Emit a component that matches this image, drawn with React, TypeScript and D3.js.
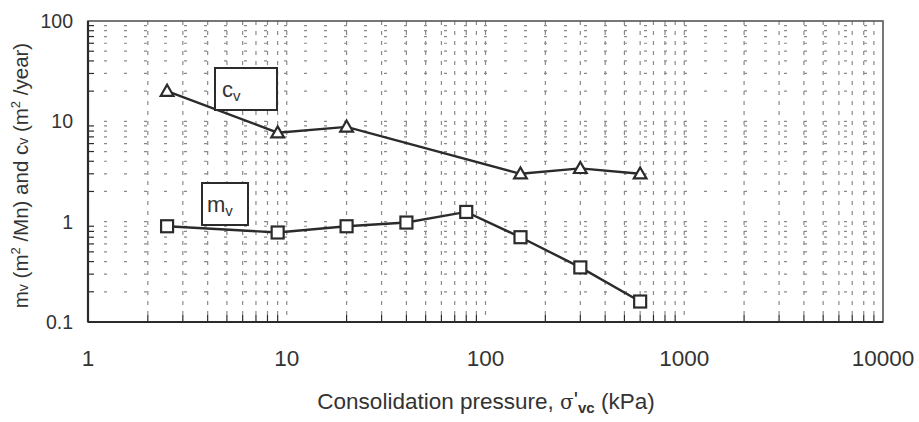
import React from "react";
import * as d3 from "d3";

// Consolidation test results: coefficient of consolidation (cv) and
// coefficient of volume compressibility (mv) against effective pressure.
const cvPressure = [2.5, 9, 20, 150, 300, 600];
const cvValues = [20, 7.7, 8.8, 3.0, 3.4, 3.0];

const mvPressure = [2.5, 9, 20, 40, 80, 150, 300, 600];
const mvValues = [0.9, 0.78, 0.9, 0.98, 1.25, 0.7, 0.35, 0.16];

const xTickValues = [1, 10, 100, 1000, 10000];
const xTickLabels = ["1", "10", "100", "1000", "10000"];
const yTickValues = [0.1, 1, 10, 100];
const yTickLabels = ["0.1", "1", "10", "100"];

const W = 919;
const H = 422;
const margin = { left: 88, right: 36, top: 21, bottom: 100 };

export default function App() {
  const x = d3
    .scaleLog()
    .domain([1, 10000])
    .range([margin.left, W - margin.right]);
  const y = d3
    .scaleLog()
    .domain([0.1, 100])
    .range([H - margin.bottom, margin.top]);

  const [x0, x1] = x.range();
  const [y0, y1] = y.range();

  // minor grid positions: 2..9 inside each decade, plus the decade lines
  const xMinor: number[] = [];
  for (let d = 1; d < 10000; d *= 10) for (let k = 2; k <= 9; k++) xMinor.push(d * k);
  const yMinor: number[] = [];
  for (let d = 0.1; d < 100; d *= 10) for (let k = 2; k <= 9; k++) yMinor.push(+(d * k).toPrecision(3));
  const xGrid = [...xMinor, 10, 100, 1000];
  const yGrid = [...yMinor, 1, 10];

  const line = d3
    .line<[number, number]>()
    .x((d) => x(d[0]))
    .y((d) => y(d[1]));

  const cvPts: [number, number][] = cvPressure.map((p, i) => [p, cvValues[i]]);
  const mvPts: [number, number][] = mvPressure.map((p, i) => [p, mvValues[i]]);

  const ink = "#2b2b2b";
  const gridColor = "#8a8a8a";
  const font = "Liberation Sans, Arial, sans-serif";

  const tri = d3.symbol(d3.symbolTriangle, 70)();

  return (
    <svg width={W} height={H} style={{ display: "block", position: "absolute", left: 0, top: 0 }}>
      <rect width={W} height={H} fill="#fff" />

      {/* dashed grid */}
      <g stroke={gridColor} strokeWidth={1.2}>
        {yGrid.map((v) => (
          <line key={"h" + v} x1={x0} x2={x1} y1={y(v)} y2={y(v)} strokeDasharray="3 17" strokeDashoffset={-16} />
        ))}
        {xGrid.map((v) => (
          <line key={"v" + v} x1={x(v)} x2={x(v)} y1={y1} y2={y0} strokeDasharray="4 6" />
        ))}
      </g>

      {/* inward minor ticks */}
      <g stroke={ink} strokeWidth={1.2}>
        {xMinor.map((v) => (
          <line key={"xt" + v} x1={x(v)} x2={x(v)} y1={y0} y2={y0 - 7} />
        ))}
        {yMinor.map((v) => (
          <line key={"yt" + v} x1={x0} x2={x0 + 6} y1={y(v)} y2={y(v)} />
        ))}
      </g>

      {/* plot frame */}
      <rect x={x0} y={y1} width={x1 - x0} height={y0 - y1} fill="none" stroke="#555" strokeWidth={1.6} />
      <line x1={x0} x2={x1} y1={y0} y2={y0} stroke={ink} strokeWidth={2.2} />
      <line x1={x0} x2={x0} y1={y1} y2={y0} stroke={ink} strokeWidth={2.2} />

      {/* tick labels */}
      <g fontFamily={font} fill="#333">
        {xTickValues.map((v, i) => (
          <text key={"xl" + v} x={x(v)} y={y0 + 44} fontSize={22.5} textAnchor="middle">
            {xTickLabels[i]}
          </text>
        ))}
        {yTickValues.map((v, i) => (
          <text key={"yl" + v} x={x0 - 15} y={y(v) + 7} fontSize={19.5} textAnchor="end">
            {yTickLabels[i]}
          </text>
        ))}
      </g>

      {/* axis titles */}
      <text x={486} y={409} fontFamily={font} fontSize={22.5} fill="#333" textAnchor="middle">
        Consolidation pressure,{" "}
        <tspan fontFamily="DejaVu Serif, serif" fontSize={20}>σ</tspan>
        <tspan dy={-2}>'</tspan>
        <tspan fontSize={15} dy={6} fontWeight="bold">vc</tspan>
        <tspan dy={-4}> (kPa)</tspan>
      </text>
      <text
        transform={`translate(28, ${(y0 + y1) / 2 + 4}) rotate(-90)`}
        fontFamily={font}
        fontSize={20.5}
        fill="#333"
        textAnchor="middle"
      >
        m<tspan fontSize={14}>v</tspan> (m<tspan fontSize={13} dy={-8}>2</tspan>
        <tspan dy={8}> /Mn) and c</tspan>
        <tspan fontSize={14}>v</tspan> (m<tspan fontSize={13} dy={-8}>2</tspan>
        <tspan dy={8}> /year)</tspan>
      </text>

      {/* series lines */}
      <path d={line(cvPts) ?? ""} fill="none" stroke={ink} strokeWidth={2.4} />
      <path d={line(mvPts) ?? ""} fill="none" stroke={ink} strokeWidth={2.4} />

      {/* markers */}
      {cvPts.map((d, i) => (
        <path
          key={"cv" + i}
          d={tri ?? ""}
          transform={`translate(${x(d[0])},${y(d[1]) + 1})`}
          fill="#fff"
          stroke={ink}
          strokeWidth={2.2}
        />
      ))}
      {mvPts.map((d, i) => (
        <rect
          key={"mv" + i}
          x={x(d[0]) - 6}
          y={y(d[1]) - 6}
          width={12}
          height={12}
          fill="#fff"
          stroke={ink}
          strokeWidth={2.2}
        />
      ))}

      {/* series labels */}
      <g fontFamily={font} fill="#333">
        <rect x={215} y={68} width={62} height={42} fill="#fff" stroke={ink} strokeWidth={2} />
        <text x={222} y={97} fontSize={22}>
          c<tspan fontSize={15} dy={4}>v</tspan>
        </text>
        <rect x={202} y={183} width={46} height={42} fill="#fff" stroke={ink} strokeWidth={2} />
        <text x={207} y={212} fontSize={22}>
          m<tspan fontSize={15} dy={4}>v</tspan>
        </text>
      </g>
    </svg>
  );
}
